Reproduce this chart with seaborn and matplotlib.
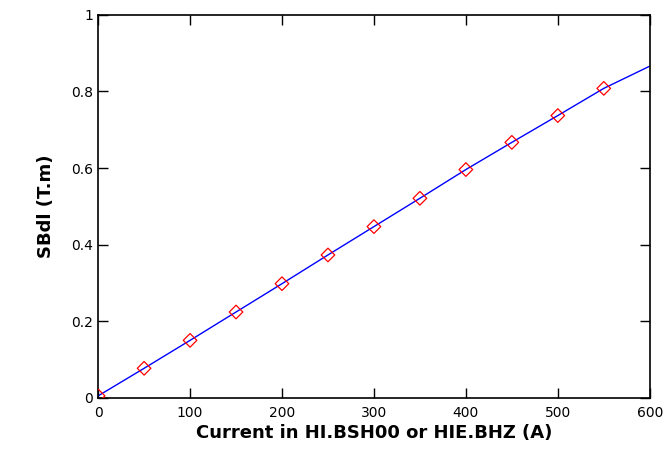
"""
SBdl vs current for HI.BSH00 / HIE.BHZ
"""
import numpy as np
import pandas as pd
import matplotlib
matplotlib.use("Agg")
import matplotlib.pyplot as plt
import seaborn as sns

sns.set_style("white")

current = [0, 50, 100, 150, 200, 250, 300, 350, 400, 450, 500, 550]
sbdl = [0.005, 0.077, 0.150, 0.224, 0.298, 0.373, 0.447, 0.521, 0.596, 0.667, 0.737, 0.808]

# fitted curve, extended to 600 A
curve_current = current + [600]
curve_sbdl = sbdl + [0.866]

df_pts = pd.DataFrame({"current": current, "sbdl": sbdl})
df_curve = pd.DataFrame({"current": curve_current, "sbdl": curve_sbdl})

fig = plt.figure(figsize=(6.63, 4.5), dpi=100)
ax = fig.add_axes([0.148, 0.116, 0.832, 0.851])

sns.lineplot(data=df_curve, x="current", y="sbdl", color="#0000ff",
             linewidth=1.0, ax=ax)
sns.scatterplot(data=df_pts, x="current", y="sbdl", marker="D", s=48,
                facecolor="none", edgecolor="#ff0000", linewidth=0.9,
                ax=ax, zorder=3)

ax.set_xlim(0, 600)
ax.set_ylim(0, 1)
ax.set_xticks([0, 100, 200, 300, 400, 500, 600])
ax.set_yticks([0, 0.2, 0.4, 0.6, 0.8, 1])
ax.set_yticklabels(["0", "0.2", "0.4", "0.6", "0.8", "1"])
ax.tick_params(direction="in", length=7, width=1, colors="black",
               labelsize=10, top=True, right=True, left=True, bottom=True)
ax.tick_params(axis="x", pad=6)
for sp in ax.spines.values():
    sp.set_color("black")
    sp.set_linewidth(1.2)

ax.set_xlabel("Current in HI.BSH00 or HIE.BHZ (A)", fontsize=13,
              fontweight="bold", labelpad=3, color="black")
ax.set_ylabel("SBdl (T.m)", fontsize=13, fontweight="bold", labelpad=12,
              color="black")
ax.grid(False)

fig.savefig("out.png", dpi=100)
